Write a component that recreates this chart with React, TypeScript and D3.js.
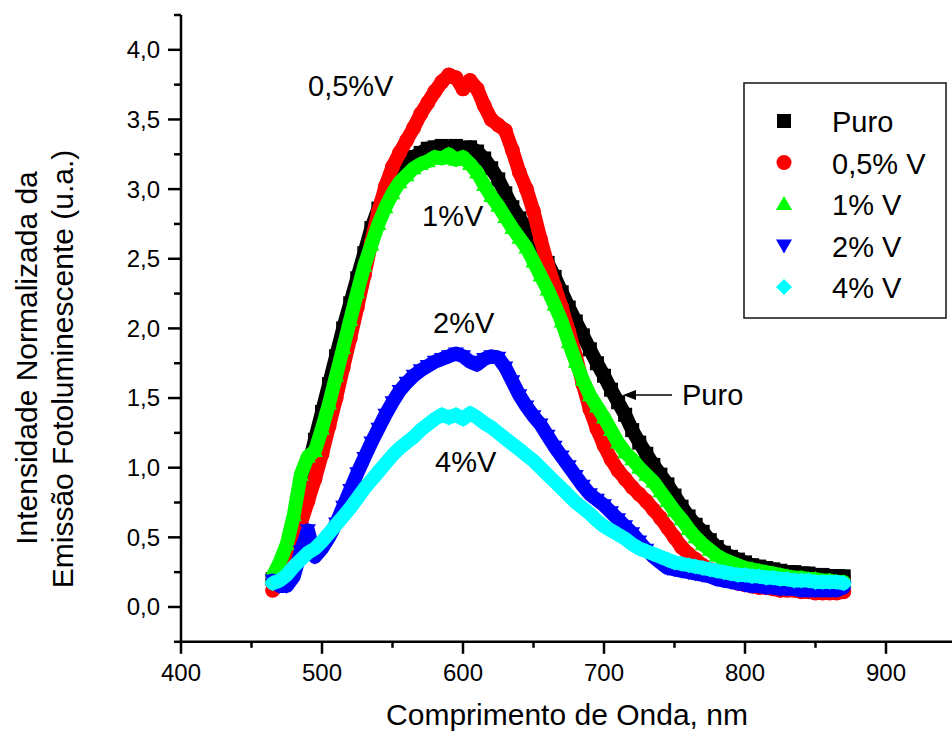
import React from "react";
import * as d3 from "d3";

const wavelengths: number[] = d3.range(465, 871, 5);

const puro = [0.20,0.27,0.38,0.56,0.80,1.00,1.20,1.40,1.60,1.80,2.00,2.18,2.36,2.54,2.72,2.86,2.98,3.07,3.14,3.19,3.23,3.26,3.29,3.30,3.31,3.29,3.31,3.29,3.30,3.27,3.22,3.15,3.07,2.97,2.87,2.79,2.72,2.64,2.56,2.47,2.37,2.26,2.15,2.05,1.95,1.85,1.75,1.66,1.56,1.47,1.38,1.27,1.18,1.10,1.02,0.95,0.88,0.80,0.72,0.65,0.59,0.54,0.48,0.43,0.39,0.36,0.34,0.32,0.30,0.29,0.28,0.27,0.26,0.25,0.25,0.24,0.24,0.23,0.23,0.22,0.22,0.22];

const v05 = [0.12,0.17,0.28,0.42,0.60,0.76,0.92,1.10,1.30,1.50,1.72,1.93,2.15,2.38,2.62,2.84,3.02,3.16,3.26,3.35,3.44,3.54,3.62,3.70,3.77,3.82,3.80,3.72,3.78,3.72,3.60,3.50,3.46,3.42,3.28,3.12,3.00,2.84,2.64,2.46,2.30,2.15,1.98,1.80,1.60,1.42,1.28,1.16,1.06,0.98,0.92,0.86,0.81,0.76,0.70,0.64,0.57,0.50,0.43,0.38,0.34,0.30,0.27,0.24,0.21,0.19,0.17,0.16,0.15,0.14,0.14,0.13,0.12,0.12,0.12,0.11,0.11,0.10,0.10,0.10,0.10,0.11];

const v1 = [0.22,0.32,0.45,0.66,0.95,1.08,1.12,1.28,1.46,1.66,1.86,2.06,2.26,2.45,2.60,2.75,2.87,2.97,3.05,3.10,3.15,3.18,3.20,3.23,3.22,3.25,3.21,3.23,3.18,3.12,3.03,2.95,2.88,2.80,2.72,2.65,2.58,2.48,2.38,2.28,2.17,2.05,1.90,1.76,1.63,1.52,1.44,1.36,1.27,1.18,1.11,1.06,1.00,0.95,0.90,0.83,0.76,0.69,0.63,0.56,0.50,0.45,0.41,0.37,0.34,0.32,0.30,0.28,0.27,0.26,0.25,0.24,0.23,0.22,0.21,0.21,0.20,0.20,0.19,0.19,0.18,0.18];

const v2 = [0.19,0.15,0.15,0.22,0.40,0.55,0.36,0.42,0.50,0.60,0.72,0.84,0.96,1.07,1.18,1.28,1.38,1.47,1.55,1.61,1.66,1.70,1.73,1.76,1.78,1.80,1.82,1.80,1.76,1.74,1.78,1.80,1.79,1.72,1.62,1.52,1.44,1.37,1.31,1.23,1.15,1.08,1.01,0.94,0.87,0.81,0.77,0.73,0.68,0.63,0.58,0.53,0.47,0.41,0.36,0.32,0.28,0.27,0.26,0.25,0.24,0.23,0.22,0.20,0.19,0.18,0.17,0.16,0.15,0.15,0.14,0.14,0.13,0.13,0.13,0.12,0.12,0.12,0.12,0.12,0.12,0.14];

const v4 = [0.17,0.19,0.23,0.29,0.34,0.39,0.42,0.47,0.53,0.59,0.65,0.71,0.78,0.85,0.91,0.97,1.03,1.09,1.14,1.18,1.22,1.27,1.31,1.35,1.38,1.36,1.38,1.35,1.39,1.36,1.32,1.29,1.25,1.21,1.17,1.13,1.09,1.05,1.00,0.95,0.90,0.85,0.80,0.75,0.71,0.67,0.62,0.58,0.55,0.52,0.49,0.45,0.42,0.40,0.38,0.36,0.34,0.32,0.31,0.30,0.29,0.28,0.27,0.26,0.25,0.24,0.23,0.23,0.22,0.22,0.21,0.21,0.20,0.20,0.19,0.19,0.19,0.18,0.18,0.18,0.18,0.17];

const seriesNames = ["Puro", "0,5% V", "1% V", "2% V", "4% V"];
const seriesValues = [puro, v05, v1, v2, v4];
const seriesColors = ["#000000", "#ff0000", "#00ff00", "#0000ff", "#00ffff"];
const seriesShapes = ["square", "circle", "triUp", "triDown", "diamond"];

const xMajor = [400, 500, 600, 700, 800, 900];
const xMinor = [450, 550, 650, 750, 850];
const yMajor = [0, 0.5, 1, 1.5, 2, 2.5, 3, 3.5, 4];
const yMinor = [-0.25, 0.25, 0.75, 1.25, 1.75, 2.25, 2.75, 3.25, 3.75, 4.25];

const annotations = [
  { text: "0,5%V", x: 308, y: 96 },
  { text: "1%V", x: 422, y: 226 },
  { text: "2%V", x: 433, y: 333 },
  { text: "4%V", x: 435, y: 472 },
];

const FONT = "'Liberation Sans', Arial, Helvetica, sans-serif";

function shapePath(shape: string): string {
  switch (shape) {
    case "square":
      return "M-7,-7H7V7H-7Z";
    case "circle":
      return "M7.5,0A7.5,7.5 0 1,1 -7.5,0A7.5,7.5 0 1,1 7.5,0Z";
    case "triUp":
      return "M-8,6L8,6L0,-8Z";
    case "triDown":
      return "M-8,-6L8,-6L0,8Z";
    case "diamond":
      return "M0,-8L8,0L0,8L-8,0Z";
  }
  return "";
}

export default function App() {
  const W = 952;
  const H = 731;
  const x = d3.scaleLinear().domain([400, 950]).range([181, 956.5]);
  const y = d3.scaleLinear().domain([-0.25, 4.25]).range([641.8, 15]);
  const x0 = 181;
  const yb = 641.8;
  const lineGen = d3
    .line<number>()
    .x((_, i) => x(wavelengths[i]))
    .y((v) => y(v));

  return (
    <svg
      width={W}
      height={H}
      style={{ position: "absolute", left: 0, top: 0, background: "#fff" }}
      fontFamily={FONT}
    >
      <rect x={0} y={0} width={W} height={H} fill="#fff" />
      {/* data */}
      {seriesValues.map((vals, si) => {
        const n = Math.min(vals.length, wavelengths.length);
        const v = vals.slice(0, n);
        return (
          <g key={si} fill={seriesColors[si]}>
            <path
              d={lineGen(v) || ""}
              fill="none"
              stroke={seriesColors[si]}
              strokeWidth={14}
              strokeLinejoin="round"
              strokeLinecap="round"
            />
            {v.map((val, i) => (
              <path
                key={i}
                d={shapePath(seriesShapes[si])}
                transform={`translate(${x(wavelengths[i])},${y(val)})`}
              />
            ))}
          </g>
        );
      })}

      {/* axes */}
      <g stroke="#000" strokeWidth={2.5} fill="none">
        <line x1={x0} y1={y(4.25)} x2={x0} y2={yb + 1.2} />
        <line x1={x0 - 1.2} y1={yb} x2={W} y2={yb} />
        {yMajor.map((t) => (
          <line key={"ym" + t} x1={x0 - 13} x2={x0} y1={y(t)} y2={y(t)} />
        ))}
        {yMinor.map((t) => (
          <line key={"yn" + t} x1={x0 - 7} x2={x0} y1={y(t)} y2={y(t)} />
        ))}
        {xMajor.map((t) => (
          <line key={"xm" + t} x1={x(t)} x2={x(t)} y1={yb} y2={yb + 12} />
        ))}
        {xMinor.map((t) => (
          <line key={"xn" + t} x1={x(t)} x2={x(t)} y1={yb} y2={yb + 6} />
        ))}
      </g>
      <g fontSize={24} fill="#000">
        {yMajor.map((t) => (
          <text key={"yl" + t} x={160} y={y(t)} dy="0.35em" textAnchor="end">
            {d3.format(".1f")(t).replace(".", ",")}
          </text>
        ))}
        {xMajor.map((t) => (
          <text key={"xl" + t} x={x(t)} y={681} textAnchor="middle">
            {t}
          </text>
        ))}
      </g>

      {/* axis titles */}
      <text x={567} y={725} fontSize={30} textAnchor="middle">
        Comprimento de Onda, nm
      </text>
      <text
        transform="translate(37,358) rotate(-90)"
        fontSize={30}
        textAnchor="middle"
      >
        Intensidade Normalizada da
      </text>
      <text
        transform="translate(73,369) rotate(-90)"
        fontSize={30}
        textAnchor="middle"
      >
        Emissão Fotoluminescente (u.a.)
      </text>

      {/* annotations */}
      {annotations.map((a) => (
        <text key={a.text} x={a.x} y={a.y} fontSize={29}>
          {a.text}
        </text>
      ))}
      <text x={682} y={405} fontSize={29}>
        Puro
      </text>
      <line x1={672} y1={395} x2={630} y2={395} stroke="#000" strokeWidth={1.5} />
      <path d="M623,395L636,390L636,400Z" fill="#000" />

      {/* legend */}
      <rect
        x={744}
        y={83}
        width={202}
        height={235}
        fill="#fff"
        stroke="#222"
        strokeWidth={1.6}
      />
      {seriesNames.map((n, i) => (
        <g key={n} transform={`translate(0,${121 + i * 41.5})`}>
          <path
            d={shapePath(seriesShapes[i])}
            transform="translate(784,0)"
            fill={seriesColors[i]}
          />
          <text x={832} y={11} fontSize={29}>
            {n}
          </text>
        </g>
      ))}
    </svg>
  );
}
